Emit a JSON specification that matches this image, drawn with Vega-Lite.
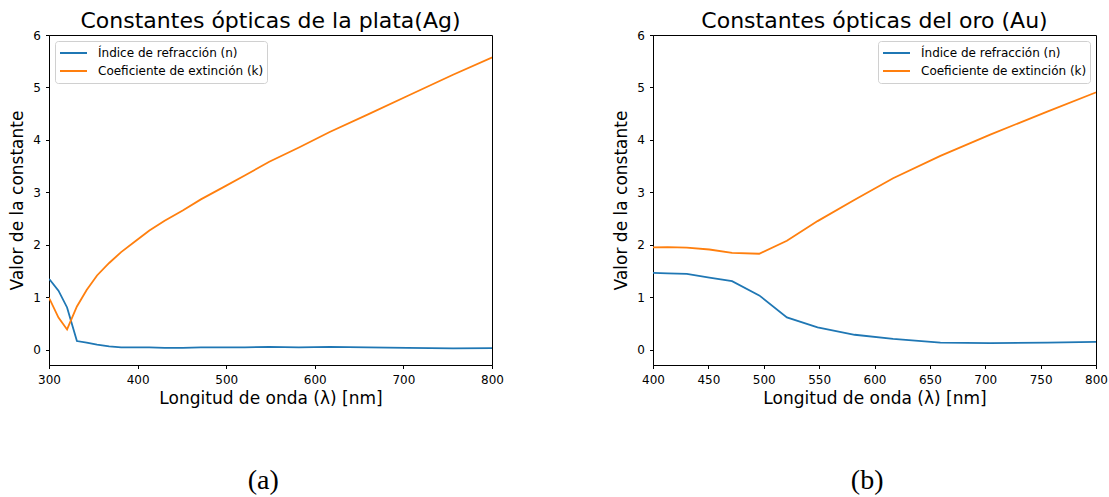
{
  "$schema": "https://vega.github.io/schema/vega-lite/v6.json",
  "background": "white",
  "padding": {"left": 8, "top": 9, "right": 5, "bottom": 0},
  "datasets": {
    "ag": [
      {"lambda": 292.4, "n": 1.39, "k": 1.161},
      {"lambda": 300.9, "n": 1.34, "k": 0.964},
      {"lambda": 310.7, "n": 1.13, "k": 0.616},
      {"lambda": 320.4, "n": 0.81, "k": 0.392},
      {"lambda": 331.5, "n": 0.17, "k": 0.829},
      {"lambda": 342.5, "n": 0.14, "k": 1.142},
      {"lambda": 354.2, "n": 0.10, "k": 1.419},
      {"lambda": 367.9, "n": 0.07, "k": 1.657},
      {"lambda": 381.4, "n": 0.05, "k": 1.864},
      {"lambda": 397.4, "n": 0.05, "k": 2.070},
      {"lambda": 413.3, "n": 0.05, "k": 2.275},
      {"lambda": 430.5, "n": 0.04, "k": 2.462},
      {"lambda": 450.9, "n": 0.04, "k": 2.657},
      {"lambda": 471.4, "n": 0.05, "k": 2.869},
      {"lambda": 495.9, "n": 0.05, "k": 3.093},
      {"lambda": 520.9, "n": 0.05, "k": 3.324},
      {"lambda": 548.6, "n": 0.06, "k": 3.586},
      {"lambda": 582.1, "n": 0.05, "k": 3.858},
      {"lambda": 616.8, "n": 0.06, "k": 4.152},
      {"lambda": 659.5, "n": 0.05, "k": 4.483},
      {"lambda": 704.5, "n": 0.04, "k": 4.838},
      {"lambda": 756.0, "n": 0.03, "k": 5.242},
      {"lambda": 821.1, "n": 0.04, "k": 5.727}
    ],
    "au": [
      {"lambda": 397.4, "n": 1.47, "k": 1.952},
      {"lambda": 413.3, "n": 1.46, "k": 1.958},
      {"lambda": 430.5, "n": 1.45, "k": 1.948},
      {"lambda": 450.9, "n": 1.38, "k": 1.914},
      {"lambda": 471.4, "n": 1.31, "k": 1.849},
      {"lambda": 495.9, "n": 1.04, "k": 1.833},
      {"lambda": 520.9, "n": 0.62, "k": 2.081},
      {"lambda": 548.6, "n": 0.43, "k": 2.455},
      {"lambda": 582.1, "n": 0.29, "k": 2.863},
      {"lambda": 616.8, "n": 0.21, "k": 3.272},
      {"lambda": 659.5, "n": 0.14, "k": 3.697},
      {"lambda": 704.5, "n": 0.13, "k": 4.103},
      {"lambda": 756.0, "n": 0.14, "k": 4.542},
      {"lambda": 821.1, "n": 0.16, "k": 5.083}
    ]
  },
  "config": {
    "font": "DejaVu Sans",
    "view": {"stroke": "black", "strokeWidth": 1},
    "axis": {
      "domainColor": "black", "tickColor": "black", "labelColor": "black", "titleColor": "black",
      "grid": false, "tickSize": 3.5, "labelFontSize": 12, "titleFontSize": 17, "titleFontWeight": "normal",
      "domainWidth": 1, "tickWidth": 1, "labelFont": "DejaVu Sans", "titleFont": "DejaVu Sans", "labelFlush": false
    },
    "axisY": {"titlePadding": 6, "labelPadding": 5},
    "axisX": {"titlePadding": 5, "labelPadding": 6},
    "title": {"fontSize": 22, "fontWeight": "normal", "font": "DejaVu Sans", "color": "black"},
    "legend": {
      "title": null, "labelFontSize": 12, "labelFont": "DejaVu Sans", "labelColor": "black",
      "symbolType": "stroke", "symbolSize": 729, "symbolStrokeWidth": 1.8,
      "strokeColor": "#d0d0d0", "fillColor": "rgba(255,255,255,0.8)", "cornerRadius": 3,
      "padding": 3, "rowPadding": 0, "clipHeight": 18, "symbolOffset": 1, "labelOffset": 10,
      "labelLimit": 300, "offset": 6
    }
  },
  "spacing": 108,
  "hconcat": [
    {
      "title": {"text": "(a)", "orient": "bottom", "font": "Liberation Serif", "fontSize": 28, "anchor": "middle", "offset": 60, "dx": 7},
      "resolve": {"scale": {"color": "independent"}, "legend": {"color": "independent"}},
      "vconcat": [
        {
          "width": 443, "height": 330,
          "title": {"text": "Constantes ópticas de la plata(Ag)", "offset": -4},
          "data": {"name": "ag"},
          "transform": [{"fold": ["n", "k"], "as": ["serie", "valor"]}],
          "mark": {"type": "line", "clip": true, "strokeWidth": 1.8},
          "encoding": {
            "x": {"field": "lambda", "type": "quantitative", "scale": {"domain": [300, 800], "nice": false, "zero": false},
                  "axis": {"values": [300, 400, 500, 600, 700, 800], "format": "d", "title": "Longitud de onda (λ) [nm]"}},
            "y": {"field": "valor", "type": "quantitative", "scale": {"domain": [-0.286, 6], "nice": false},
                  "axis": {"values": [0, 1, 2, 3, 4, 5, 6], "format": "d", "title": "Valor de la constante"}},
            "color": {"field": "serie", "type": "nominal", "sort": ["n", "k"],
                      "scale": {"domain": ["n", "k"], "range": ["#1f77b4", "#ff7f0e"]},
                      "legend": {"orient": "top-left", "labelExpr": "datum.value == 'n' ? 'Índice de refracción (n)' : 'Coeficiente de extinción (k)'"}}
          }
        }
      ]
    },
    {
      "title": {"text": "(b)", "orient": "bottom", "font": "Liberation Serif", "fontSize": 28, "anchor": "middle", "offset": 60, "dx": 7},
      "resolve": {"scale": {"color": "independent"}, "legend": {"color": "independent"}},
      "vconcat": [
        {
          "width": 443, "height": 330,
          "title": {"text": "Constantes ópticas del oro (Au)", "offset": -4},
          "data": {"name": "au"},
          "transform": [{"fold": ["n", "k"], "as": ["serie", "valor"]}],
          "mark": {"type": "line", "clip": true, "strokeWidth": 1.8},
          "encoding": {
            "x": {"field": "lambda", "type": "quantitative", "scale": {"domain": [400, 800], "nice": false, "zero": false},
                  "axis": {"values": [400, 450, 500, 550, 600, 650, 700, 750, 800], "format": "d", "title": "Longitud de onda (λ) [nm]"}},
            "y": {"field": "valor", "type": "quantitative", "scale": {"domain": [-0.286, 6], "nice": false},
                  "axis": {"values": [0, 1, 2, 3, 4, 5, 6], "format": "d", "title": "Valor de la constante"}},
            "color": {"field": "serie", "type": "nominal", "sort": ["n", "k"],
                      "scale": {"domain": ["n", "k"], "range": ["#1f77b4", "#ff7f0e"]},
                      "legend": {"orient": "top-right", "labelExpr": "datum.value == 'n' ? 'Índice de refracción (n)' : 'Coeficiente de extinción (k)'"}}
          }
        }
      ]
    }
  ],
  "resolve": {"scale": {"color": "independent"}, "legend": {"color": "independent"}}
}
